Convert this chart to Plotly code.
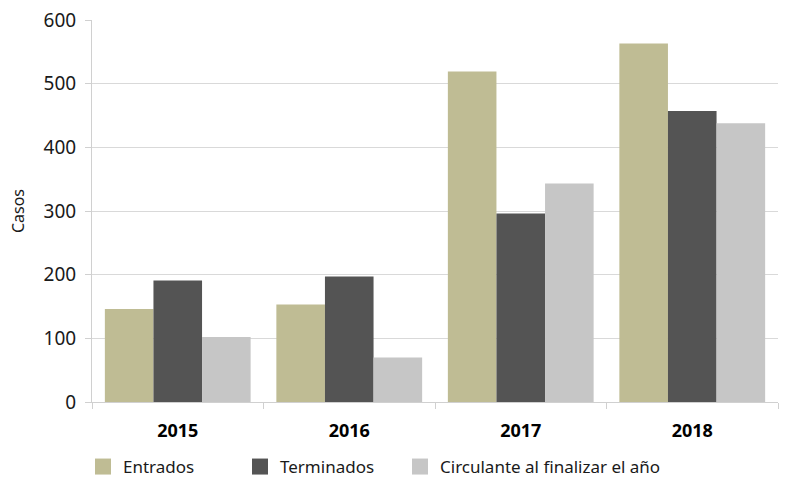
import plotly.graph_objects as go

years = ["2015", "2016", "2017", "2018"]
entrados = [146, 153, 519, 563]
terminados = [191, 197, 296, 457]
circulante = [102, 70, 343, 438]
series_names = ["Entrados", "Terminados", "Circulante al finalizar el año"]
colors = ["#BFBC94", "#545454", "#C6C6C6"]
y_ticks = [0, 100, 200, 300, 400, 500, 600]

FONT = "Noto Sans"
W, H = 787, 479
fig = go.Figure()
for name, vals, col in zip(series_names, [entrados, terminados, circulante], colors):
    fig.add_trace(go.Bar(x=years, y=vals, name=name, marker=dict(color=col, line=dict(width=0)),
                         showlegend=False))
legend_ids = ["legend", "legend2", "legend3"]
legend_x_px = [83, 240, 400]
for name, col, lid in zip(series_names, colors, legend_ids):
    fig.add_trace(go.Scatter(x=[None], y=[None], mode="markers", name=name, legend=lid,
                             marker=dict(symbol="square", size=16, color=col)))

legend_common = dict(orientation="h", xref="container", yref="container", xanchor="left",
                      yanchor="middle", y=1 - 467 / H, font=dict(size=17, family=FONT, color="#1a1a1a"),
                      bgcolor="rgba(0,0,0,0)", itemwidth=30)

fig.update_layout(
    width=W, height=H,
    margin=dict(l=92, r=9, t=20, b=77, autoexpand=False),
    plot_bgcolor="white", paper_bgcolor="white",
    barmode="group", bargap=0.15, bargroupgap=0,
    font=dict(family=FONT, color="#1a1a1a", size=17),
    xaxis=dict(type="category", showline=True, linecolor="#d0d0d0", linewidth=1,
               ticks="outside", tickson="boundaries", ticklen=6, tickcolor="#d0d0d0",
               tickfont=dict(size=18, family=FONT, weight="bold", color="black"),
               ticklabelstandoff=12,
               showgrid=False, automargin=False),
    yaxis=dict(range=[0, 600], tickvals=y_ticks, showline=True, linecolor="#d0d0d0", linewidth=1,
               ticks="outside", ticklen=6, tickcolor="#d0d0d0",
               gridcolor="#d9d9d9", gridwidth=1, zeroline=False, automargin=False,
               ticklabelstandoff=5,
               tickfont=dict(size=19, family=FONT, color="#1a1a1a"),
               title=dict(text="Casos", font=dict(size=16, family=FONT), standoff=14)),
    legend=dict(x=legend_x_px[0] / W, **legend_common),
    legend2=dict(x=legend_x_px[1] / W, **legend_common),
    legend3=dict(x=legend_x_px[2] / W, **legend_common),
)
fig.write_html("out.html", config={"displayModeBar": False},
               post_script="document.body.style.margin='0';document.body.style.overflow='hidden';")
